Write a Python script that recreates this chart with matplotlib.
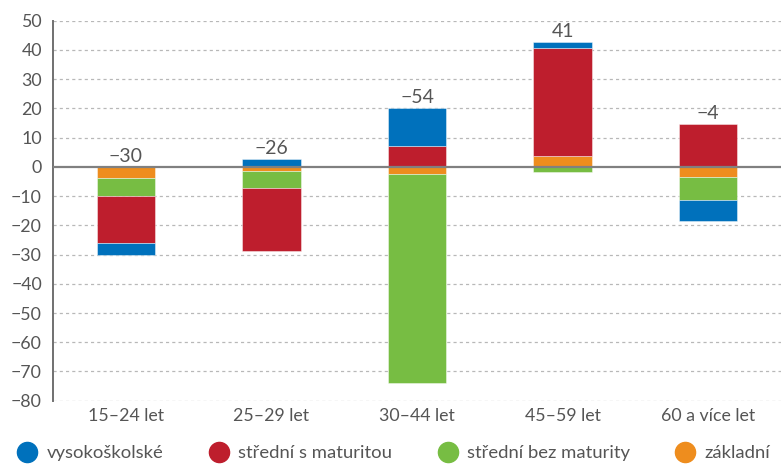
import matplotlib.pyplot as plt
from matplotlib.lines import Line2D
from matplotlib.ticker import FuncFormatter
import numpy as np

# Categories and series values (change in thousands)
categories = ['15–24 let', '25–29 let', '30–44 let', '45–59 let', '60 a více let']
vysokoskolske = [-4.0, 2.8, 12.7, 2.0, -7.3]
stredni_mat = [-16.2, -21.7, 7.3, 37.1, 14.5]
stredni_bez = [-6.1, -5.6, -71.7, -1.8, -7.8]
zakladni = [-3.7, -1.5, -2.3, 3.7, -3.4]
totals = [-30, -26, -54, 41, -4]

legend_labels = ['vysokoškolské', 'střední s maturitou', 'střední bez maturity', 'základní']
colors = ['#0071bc', '#be1e2d', '#77bd43', '#ee8d1e']

plt.rcParams['font.family'] = ['Lato', 'DejaVu Sans']
grey = '#555555'
MINUS = '\u2212'

fig = plt.figure(figsize=(7.81, 4.68), dpi=100)
ax = fig.add_axes([53 / 781, 1 - 400.7 / 468, 1 - 53 / 781, (400.7 - 20.7) / 468])

x = np.arange(len(categories))
# stacking order from zero outwards: základní, bez maturity, s maturitou, VŠ
stack = [(zakladni, colors[3]), (stredni_bez, colors[2]),
         (stredni_mat, colors[1]), (vysokoskolske, colors[0])]
pos = np.zeros(len(x))
neg = np.zeros(len(x))
for vals, col in stack:
    v = np.array(vals)
    bottom = np.where(v >= 0, pos, neg)
    ax.bar(x, v, width=0.4, bottom=bottom, color=col,
           edgecolor=(1, 1, 1, 0.5), linewidth=0.6, zorder=3)
    pos = pos + np.where(v >= 0, v, 0)
    neg = neg + np.where(v < 0, v, 0)

for i, t in enumerate(totals):
    lab = str(t).replace('-', MINUS)
    ax.annotate(lab, (x[i], pos[i]), xytext=(0, 1.5), textcoords='offset points',
                ha='center', va='bottom', fontsize=14, color=grey)

ax.set_xlim(-0.5, 4.5)
ax.set_ylim(-80, 50)
ax.set_yticks(range(-80, 51, 10))
ax.yaxis.set_major_formatter(FuncFormatter(lambda v, p: f'{int(v)}'.replace('-', MINUS)))
ax.set_xticks(x)
ax.set_xticklabels(categories)
ax.tick_params(axis='both', length=0, labelsize=12.8, labelcolor=grey)
ax.tick_params(axis='y', pad=8)
ax.tick_params(axis='x', pad=5)

for yv in range(-80, 51, 10):
    if yv != 0:
        ax.axhline(yv, color='#b8b8b8', lw=0.9, ls=(0, (2.5, 2.5)), zorder=1)
ax.axhline(0, color='#808080', lw=1.6, zorder=4)

for s in ['top', 'right', 'bottom']:
    ax.spines[s].set_visible(False)
ax.spines['left'].set_color('#707070')
ax.spines['left'].set_linewidth(1.4)

handles = [Line2D([], [], marker='o', ls='none', markersize=14.5, color=c) for c in colors]
fig.legend(handles, legend_labels, loc='center left', bbox_to_anchor=(18 / 781, 15 / 468),
           ncol=4, frameon=False, fontsize=13.3, handlelength=1.0, handletextpad=0.55,
           columnspacing=2.5, labelcolor=grey, borderaxespad=0, borderpad=0)

fig.savefig('out.png', dpi=100)
